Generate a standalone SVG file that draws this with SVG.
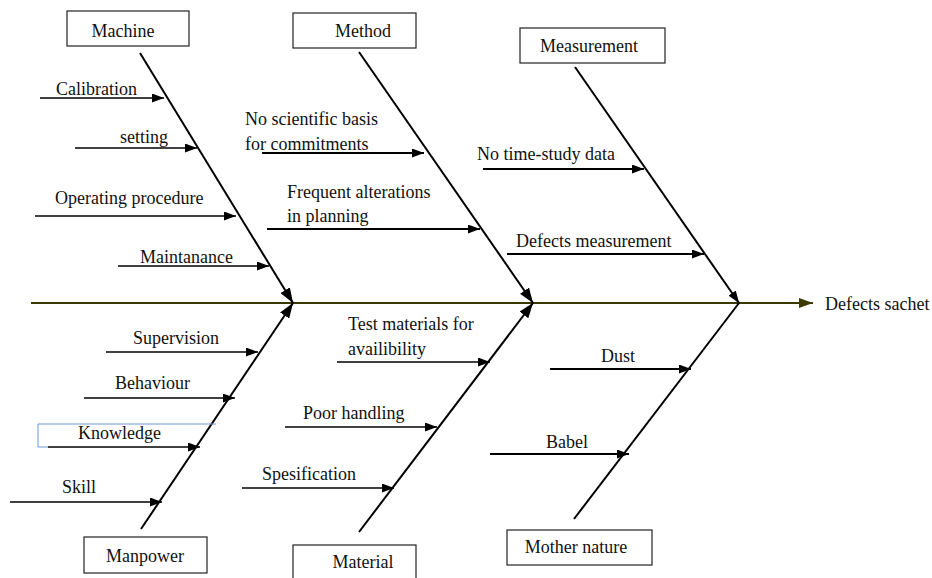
<svg xmlns="http://www.w3.org/2000/svg" width="932" height="578" viewBox="0 0 932 578">
<style>
text{font-family:"Liberation Serif","Times New Roman",serif;font-size:18px;fill:#111}
.box{fill:#fff;stroke:#222;stroke-width:1.2}
.bone{stroke:#000;stroke-width:2;fill:none}
.sub{stroke:#000;stroke-width:1.4;fill:none}
.subt{stroke:#000;stroke-width:2;fill:none}
.mid{text-anchor:middle}
</style>
<defs>
<marker id="ah" markerUnits="userSpaceOnUse" markerWidth="12" markerHeight="9" refX="12" refY="4.5" orient="auto"><path d="M0,0 L12,4.5 L0,9 z" fill="#000"/></marker>
<marker id="big" markerUnits="userSpaceOnUse" markerWidth="15" markerHeight="11" refX="15" refY="5.5" orient="auto"><path d="M0,0 L15,5.5 L0,11 z" fill="#000"/></marker>
<marker id="sp" markerUnits="userSpaceOnUse" markerWidth="14" markerHeight="10" refX="14" refY="5" orient="auto"><path d="M0,0 L14,5 L0,10 z" fill="#3a3a00"/></marker>
</defs>

<g id="connectors">
<line x1="31" y1="303" x2="813" y2="303" stroke="#3a3a00" stroke-width="2" marker-end="url(#sp)"/>
<line class="bone" x1="140" y1="53" x2="293" y2="303" marker-end="url(#big)"/>
<line class="bone" x1="359" y1="52" x2="533" y2="303" marker-end="url(#big)"/>
<line class="bone" x1="575" y1="67" x2="739" y2="303" marker-end="url(#ah)"/>
<line class="bone" x1="141" y1="529" x2="293" y2="303" marker-end="url(#big)"/>
<line class="bone" x1="359" y1="532" x2="533" y2="303" marker-end="url(#big)"/>
<line class="bone" x1="574" y1="519" x2="739" y2="303"/>

<line class="sub" x1="40" y1="98" x2="164" y2="98" marker-end="url(#ah)"/>
<line class="sub" x1="75" y1="148" x2="197" y2="148" marker-end="url(#ah)"/>
<line class="sub" x1="35" y1="216" x2="236" y2="216" marker-end="url(#ah)"/>
<line class="sub" x1="118" y1="266" x2="269" y2="266" marker-end="url(#ah)"/>

<line class="subt" x1="262" y1="153" x2="424" y2="153" marker-end="url(#ah)"/>
<line class="subt" x1="267" y1="229" x2="480" y2="229" marker-end="url(#ah)"/>

<line class="subt" x1="483" y1="169" x2="644" y2="169" marker-end="url(#ah)"/>
<line class="subt" x1="507" y1="254" x2="704" y2="254" marker-end="url(#ah)"/>

<line class="sub" x1="106" y1="352" x2="258" y2="352" marker-end="url(#ah)"/>
<line class="sub" x1="84" y1="398" x2="235" y2="398" marker-end="url(#ah)"/>
<path d="M48,447 L38,447 L38,424 L216,424" fill="none" stroke="#6a9ad8" stroke-width="1"/>
<line class="sub" x1="48" y1="447" x2="200" y2="447" marker-end="url(#ah)"/>
<line class="sub" x1="10" y1="502" x2="162" y2="502" marker-end="url(#ah)"/>

<line class="sub" x1="337" y1="362" x2="490" y2="362" marker-end="url(#ah)"/>
<line class="sub" x1="285" y1="427" x2="437" y2="427" marker-end="url(#ah)"/>
<line class="sub" x1="242" y1="488" x2="394" y2="488" marker-end="url(#ah)"/>

<line class="subt" x1="550" y1="369" x2="691" y2="369" marker-end="url(#ah)"/>
<line class="subt" x1="490" y1="454" x2="629" y2="454" marker-end="url(#ah)"/>
</g>

<g id="machine"><rect class="box" x="67" y="11" width="122" height="35"/><text class="mid" x="123" y="37">Machine</text></g>
<g id="method"><rect class="box" x="293" y="13" width="123" height="35"/><text class="mid" x="363" y="37">Method</text></g>
<g id="measurement"><rect class="box" x="520" y="28" width="145" height="35"/><text class="mid" x="589" y="52">Measurement</text></g>
<g id="manpower"><rect class="box" x="84" y="537" width="123" height="36"/><text class="mid" x="145" y="562">Manpower</text></g>
<g id="material"><rect class="box" x="293" y="545" width="123" height="40"/><text class="mid" x="363" y="568">Material</text></g>
<g id="mother-nature"><rect class="box" x="507" y="530" width="145" height="35"/><text class="mid" x="576" y="553">Mother nature</text></g>
<g id="effect"><text x="825" y="310">Defects sachet</text></g>

<g id="causes">
<text x="56" y="95">Calibration</text>
<text x="120" y="143">setting</text>
<text x="55" y="204">Operating procedure</text>
<text x="140" y="263">Maintanance</text>
<text x="245" y="125">No scientific basis</text>
<text x="245" y="150">for commitments</text>
<text x="287" y="198">Frequent alterations</text>
<text x="287" y="222">in planning</text>
<text x="477" y="160">No time-study data</text>
<text x="516" y="247">Defects measurement</text>
<text x="133" y="344">Supervision</text>
<text x="115" y="389">Behaviour</text>
<text x="78" y="439">Knowledge</text>
<text x="62" y="493">Skill</text>
<text x="348" y="330">Test materials for</text>
<text x="348" y="355">availibility</text>
<text x="303" y="419">Poor handling</text>
<text x="262" y="480">Spesification</text>
<text x="601" y="362">Dust</text>
<text x="546" y="448">Babel</text>
</g>
</svg>
